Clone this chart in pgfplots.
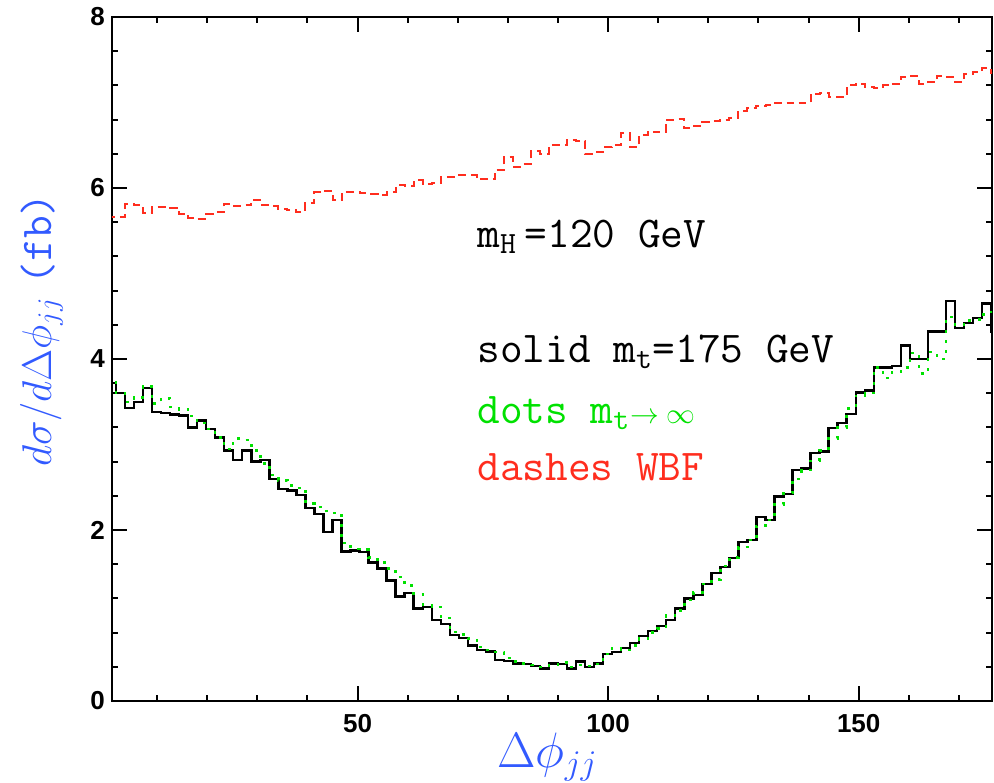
\documentclass[border=0pt]{standalone}
\usepackage{fontspec}
\setsansfont{Liberation Sans}
\usepackage{pgfplots}
\usepackage{pgfplotstable}
\pgfplotsset{compat=1.18}

\definecolor{lblue}{RGB}{50,90,255}
\definecolor{hgreen}{RGB}{0,225,0}
\definecolor{hred}{RGB}{255,45,30}

% bin left edge, mt=175 GeV, mt->infinity, WBF
\pgfplotstableread{
x     solid  dots  wbf
0     3.72   3.75  5.66
1.8   3.60   3.60  5.66
3.6   3.43   3.50  5.81
5.4   3.50   3.55  5.80
7.2   3.66   3.68  5.71
9.0   3.38   3.48  5.78
10.8  3.37   3.54  5.78
12.6  3.35   3.44  5.77
14.4  3.34   3.41  5.70
16.2  3.20   3.33  5.65
18.0  3.28   3.25  5.64
19.8  3.18   3.18  5.70
21.6  3.08   3.08  5.72
23.4  2.93   2.95  5.81
25.2  2.82   3.07  5.79
27.0  2.93   3.05  5.80
28.8  2.80   2.93  5.86
30.6  2.82   2.78  5.80
32.4  2.60   2.64  5.79
34.2  2.48   2.58  5.76
36.0  2.46   2.52  5.74
37.8  2.41   2.49  5.72
39.6  2.26   2.31  5.82
41.4  2.19   2.27  5.95
43.2  1.98   2.22  5.97
45.0  2.12   2.20  5.86
46.8  1.75   1.85  5.95
48.6  1.76   1.78  5.95
50.4  1.74   1.77  5.94
52.2  1.62   1.68  5.93
54.0  1.55   1.62  5.92
55.8  1.41   1.55  5.95
57.6  1.22   1.45  6.03
59.4  1.26   1.35  6.02
61.2  1.08   1.25  6.09
63.0  1.10   1.12  6.05
64.8  0.95   1.10  6.06
66.6  0.90   0.97  6.13
68.4  0.77   0.81  6.13
70.2  0.74   0.78  6.15
72.0  0.65   0.73  6.15
73.8  0.60   0.63  6.10
75.6  0.58   0.60  6.10
77.4  0.48   0.57  6.21
79.2  0.47   0.50  6.36
81.0  0.44   0.46  6.25
82.8  0.43   0.44  6.28
84.6  0.41   0.42  6.43
86.4  0.38   0.40  6.40
88.2  0.44   0.42  6.50
90.0  0.43   0.45  6.50
91.8  0.38   0.40  6.56
93.6  0.46   0.42  6.55
95.4  0.40   0.41  6.40
97.2  0.44   0.43  6.42
99.0  0.55   0.55  6.48
100.8 0.57   0.62  6.50
102.6 0.62   0.60  6.64
104.4 0.68   0.65  6.48
106.2 0.76   0.73  6.62
108.0 0.82   0.80  6.65
109.8 0.88   0.85  6.66
111.6 0.95   1.00  6.80
113.4 1.08   1.06  6.81
115.2 1.20   1.18  6.70
117.0 1.24   1.27  6.72
118.8 1.37   1.37  6.77
120.6 1.50   1.42  6.78
122.4 1.57   1.58  6.80
124.2 1.67   1.68  6.82
126.0 1.86   1.80  6.90
127.8 1.88   1.88  6.93
129.6 2.15   2.05  6.96
131.4 2.12   2.12  6.97
133.2 2.39   2.30  7.00
135.0 2.42   2.43  7.00
136.8 2.70   2.60  6.99
138.6 2.72   2.70  7.00
140.4 2.90   2.81  7.10
142.2 2.92   2.93  7.11
144.0 3.19   3.07  7.06
145.8 3.25   3.20  7.06
147.6 3.36   3.42  7.20
149.4 3.61   3.57  7.22
151.2 3.63   3.60  7.18
153.0 3.90   3.90  7.17
154.8 3.90   3.78  7.20
156.6 3.92   3.85  7.22
158.4 4.16   3.90  7.30
160.2 4.00   4.07  7.31
162.0 4.00   3.83  7.22
163.8 4.32   4.08  7.24
165.6 4.32   4.00  7.31
167.4 4.68   4.49  7.30
169.2 4.36   4.40  7.24
171.0 4.42   4.45  7.33
172.8 4.48   4.46  7.36
174.6 4.65   4.52  7.40
176.4 4.32   4.55  7.35
178.2 4.30   4.60  7.35
180.0 4.30   4.60  7.35
}\histdata

\begin{document}
\begin{tikzpicture}
\useasboundingbox (-56pt,-40.5pt) rectangle (441pt,350.5pt);
\begin{axis}[
    scale only axis,
    width=440pt,
    height=342pt,
    xmin=1, xmax=176.6,
    ymin=0, ymax=8,
    xtick={50,100,150},
    minor xtick={10,20,...,170},
    ytick={0,2,4,6,8},
    minor ytick={0.4,0.8,...,7.6},
    tick pos=both,
    tick align=inside,
    major tick length=7.5pt,
    minor tick length=3pt,
    axis line style={line width=1.2pt},
    tick style={black, line width=1pt},
    tick label style={font=\fontsize{13}{13}\selectfont\bfseries\sffamily},
    xticklabel style={yshift=-3pt},
    /pgf/number format/assume math mode=true,
    xlabel={$\Delta\phi_{jj}$},
    xlabel style={at={(axis description cs:0.495,-0.0965)}, anchor=base,
        text=lblue, font=\fontsize{26}{30}\selectfont},
    ylabel={$d\sigma/d\Delta\phi_{jj}$ \texttt{(fb)}},
    ylabel style={at={(axis description cs:-0.08,0.542)}, anchor=center,
        text=lblue, font=\fontsize{22}{26}\selectfont},
]

\addplot[const plot, black, line width=1.2pt] table[x=x, y=solid] {\histdata};
\addplot[const plot, hgreen, line width=1.2pt, dash pattern=on 1.5pt off 3.5pt] table[x=x, y=dots] {\histdata};
\addplot[const plot, hred, line width=1pt, dash pattern=on 4pt off 2.5pt] table[x=x, y=wbf] {\histdata};

\node[anchor=base west, font=\fontsize{22}{26}\selectfont\ttfamily] at (axis cs:72.5,5.31) {m$_\mathtt{H}$\hspace{4pt}=120 GeV};
\node[anchor=base west, font=\fontsize{22}{26}\selectfont\ttfamily] at (axis cs:72.5,3.96) {solid m$_\mathtt{t}$=175 GeV};
\node[anchor=base west, font=\fontsize{22}{26}\selectfont\ttfamily, text=hgreen] at (axis cs:72.5,3.25) {dots m$_\mathtt{t}${\fontsize{14}{14}\selectfont$\rightarrow\infty$}};
\node[anchor=base west, font=\fontsize{22}{26}\selectfont\ttfamily, text=hred] at (axis cs:72.5,2.58) {dashes WBF};
\end{axis}
\end{tikzpicture}
\end{document}
